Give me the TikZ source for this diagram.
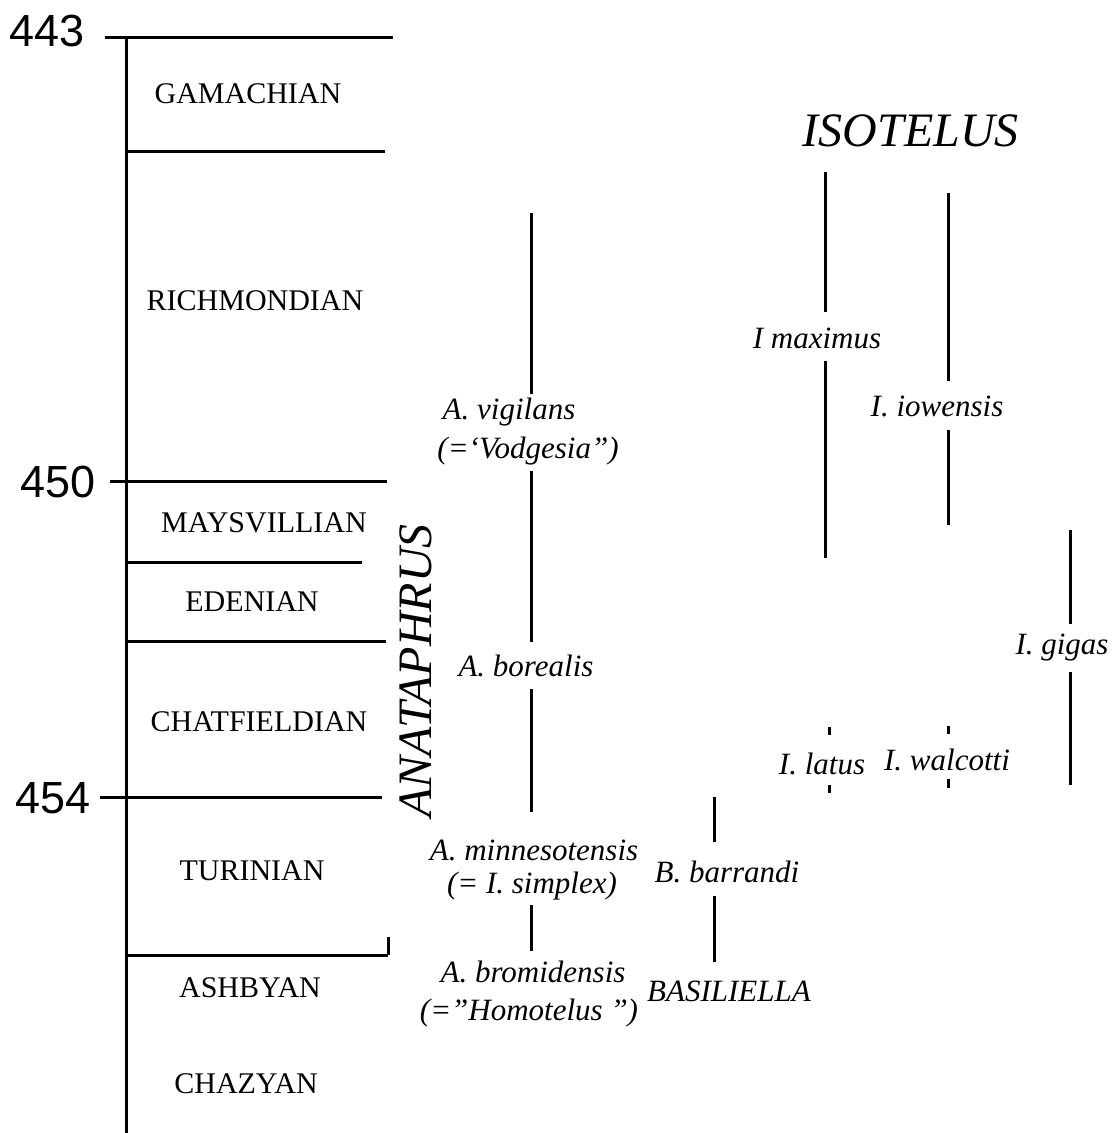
\documentclass[tikz,border=0pt]{standalone}
\usepackage{fontspec}
\setmainfont{Liberation Serif}
\newfontfamily\agefont{Liberation Sans}

\tikzset{
  bar/.style={line width=3pt},
  stage/.style={font=\fontsize{30}{32}\selectfont, inner sep=0pt},
  taxon/.style={font=\fontsize{31}{33}\selectfont\itshape, inner sep=4pt},
  genus/.style={font=\fontsize{48}{50}\selectfont\itshape, inner sep=0pt},
  age/.style={font=\agefont\fontsize{45}{47}\selectfont, inner sep=0pt, anchor=east},
}

\begin{document}
\begin{tikzpicture}[x=1pt,y=-1pt]
  \useasboundingbox (0,0) rectangle (1113,1133);

  % time scale
  \draw[bar] (126,37) -- (126,1133);
  \foreach \y/\xa/\xb in {37/105/393, 151/126/385, 481/110/387, 562/126/362,
                          641/126/386, 797/100/382, 955/126/388} {
    \draw[bar] (\xa,\y) -- (\xb,\y);
  }
  \draw[bar] (388,955) -- (388,937);

  \node[age] (a443) at (85,31) {443};
  \node[age] (a450) at (96,482) {450};
  \node[age] (a454) at (91,798) {454};

  \node[stage] (gam) at (248,94) {GAMACHIAN};
  \node[stage] (ric) at (255,301) {RICHMONDIAN};
  \node[stage] (may) at (264,523) {MAYSVILLIAN};
  \node[stage] (ede) at (252,602) {EDENIAN};
  \node[stage] (cha) at (259,722) {CHATFIELDIAN};
  \node[stage] (tur) at (252,871) {TURINIAN};
  \node[stage] (ash) at (250,988) {ASHBYAN};
  \node[stage] (chz) at (246,1084) {CHAZYAN};

  % genera
  \node[genus, rotate=90] (anat) at (416,671) {ANATAPHRUS};
  \node[genus] (isot) at (911,131) {ISOTELUS};

  % Anataphrus
  \node[taxon] (vig) at (509,412) {A. vigilans};
  \node[taxon] (vigb) at (528,451) {(=‘Vodgesia”)};
  \node[taxon] (bor) at (526,666) {A. borealis};
  \node[taxon] (min) at (534,850) {A. minnesotensis};
  \node[taxon] (simp) at (532,886) {(= I. simplex)};
  \node[taxon] (brom) at (533,972) {A. bromidensis};
  \node[taxon] (brob) at (529,1013) {(=”Homotelus ”)};

  \coordinate (anatop) at (531,213);
  \draw[bar] (anatop) -- (anatop |- vig.north);
  \draw[bar, shorten <=2pt, shorten >=9pt] (anatop |- vigb.south) -- (anatop |- bor.north);
  \draw[bar, shorten <=8pt, shorten >=23pt] (anatop |- bor.south) -- (anatop |- min.north);
  \draw[bar, shorten <=1pt, shorten >=6pt] (anatop |- simp.south) -- (anatop |- brom.north);

  % Basiliella
  \node[taxon] (barr) at (727,872) {B. barrandi};
  \node[taxon] (basi) at (729,991) {BASILIELLA};
  \coordinate (basitop) at (714,797);
  \draw[bar, shorten >=15pt] (basitop) -- (basitop |- barr.north);
  \draw[bar, shorten <=9pt, shorten >=14pt] (basitop |- barr.south) -- (basitop |- basi.north);

  % Isotelus
  \node[taxon] (max) at (817,338) {I maximus};
  \node[taxon] (iow) at (937,406) {I. iowensis};
  \node[taxon] (gig) at (1062,648) {I. gigas};
  \node[taxon] (lat) at (822,764) {I. latus};
  \node[taxon] (wal) at (947,760) {I. walcotti};

  \coordinate (maxtop) at (825,172);
  \coordinate (maxbot) at (825,558);
  \draw[bar, shorten >=11pt] (maxtop) -- (maxtop |- max.north);
  \draw[bar, shorten <=8pt] (maxtop |- max.south) -- (maxbot);

  \coordinate (iowtop) at (948,193);
  \coordinate (iowbot) at (948,525);
  \draw[bar, shorten >=10pt] (iowtop) -- (iowtop |- iow.north);
  \draw[bar, shorten <=9pt] (iowtop |- iow.south) -- (iowbot);

  \coordinate (gigtop) at (1070,530);
  \coordinate (gigbot) at (1070,785);
  \draw[bar, shorten >=6pt] (gigtop) -- (gigtop |- gig.north);
  \draw[bar, shorten <=6pt] (gigtop |- gig.south) -- (gigbot);

  \coordinate (latA) at (829,727);
  \coordinate (latB) at (829,785);
  \draw[bar] (latA) -- ++(0,8);
  \draw[bar] (latB) -- ++(0,8);
  \coordinate (walA) at (948,726);
  \coordinate (walB) at (948,779);
  \draw[bar] (walA) -- ++(0,8);
  \draw[bar] (walB) -- ++(0,9);

\end{tikzpicture}
\end{document}
